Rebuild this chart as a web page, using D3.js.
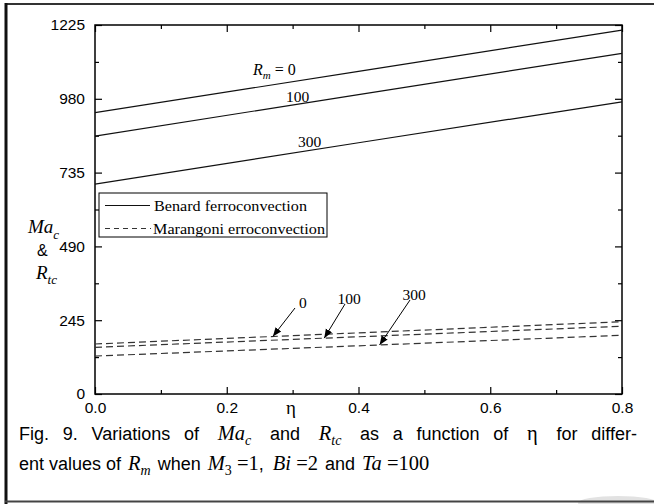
<!DOCTYPE html>
<html>
<head>
<meta charset="utf-8">
<script src="https://cdn.jsdelivr.net/npm/d3@7"></script>
<style>
  html, body { margin: 0; padding: 0; background: #fff; }
  svg { display: block; }
  text { white-space: pre; }
</style>
</head>
<body>
<script>
// η values sampled along each curve
const eta = [0, 0.4, 0.8];

// Benard ferroconvection (solid): critical R_tc for each R_m
const benardRm0   = [934, 1071, 1208];
const benardRm100 = [856, 994, 1131];
const benardRm300 = [697, 834, 970];

// Marangoni ferroconvection (dashed): critical Ma_c for each R_m
const marangoniRm0   = [166, 203, 240];
const marangoniRm100 = [155, 190, 225];
const marangoniRm300 = [126, 160, 195];

const yTicks = [0, 245, 490, 735, 980, 1225];
const yMinor = [122.5, 367.5, 612.5, 857.5, 1102.5];
const xTicks = [0, 0.2, 0.4, 0.6, 0.8];
const xMinor = [0.1, 0.3, 0.5, 0.7];

const solidSeries = [
  { label: "0",   values: benardRm0 },
  { label: "100", values: benardRm100 },
  { label: "300", values: benardRm300 }
];
const dashedSeries = [
  { label: "0",   values: marangoniRm0,   at: 0.27,  lx: 299, ly: 303 },
  { label: "100", values: marangoniRm100, at: 0.348, lx: 349, ly: 299 },
  { label: "300", values: marangoniRm300, at: 0.432, lx: 414, ly: 295 }
];

const W = 654, H = 504;
const margin = { left: 95, top: 25, right: 654 - 622, bottom: 504 - 394 };

const svg = d3.select("body").append("svg")
  .attr("width", W).attr("height", H)
  .style("font-family", "'Liberation Sans', Arial, sans-serif");

svg.append("rect").attr("width", W).attr("height", H).attr("fill", "#fff");

// figure frame
svg.append("line").attr("x1", 5).attr("x2", W).attr("y1", 4).attr("y2", 4)
  .attr("stroke", "#333").attr("stroke-width", 2);
svg.append("line").attr("x1", 6).attr("x2", 6).attr("y1", 3).attr("y2", H)
  .attr("stroke", "#111").attr("stroke-width", 3);
svg.append("ellipse").attr("cx", 618).attr("cy", 503).attr("rx", 40).attr("ry", 7)
  .attr("fill", "#e2e2e2");
svg.append("line").attr("x1", 5).attr("x2", W).attr("y1", 501.5).attr("y2", 501.5)
  .attr("stroke", "#444").attr("stroke-width", 2);

const x = d3.scaleLinear().domain([0, 0.8]).range([margin.left, W - margin.right]);
const y = d3.scaleLinear().domain([0, 1225]).range([H - margin.bottom, margin.top]);

const x0 = x.range()[0], x1 = x.range()[1];
const y0 = y.range()[0], y1 = y.range()[1];

function styleAxis(g) {
  g.select(".domain").remove();
  g.selectAll(".tick line").attr("stroke", "#000").attr("stroke-width", 1.2);
  g.selectAll(".tick text").attr("fill", "#000")
    .style("font-family", "'Liberation Sans', Arial, sans-serif")
    .style("font-size", "15.5px");
}

// left axis (ticks inward)
svg.append("g").attr("transform", `translate(${x0},0)`)
  .call(d3.axisLeft(y).tickValues(yTicks).tickSize(-7).tickPadding(10).tickFormat(d3.format("d")))
  .call(styleAxis);
svg.append("g").attr("transform", `translate(${x0},0)`)
  .call(d3.axisLeft(y).tickValues(yMinor).tickSize(-4).tickFormat(""))
  .call(styleAxis);
// right axis
svg.append("g").attr("transform", `translate(${x1},0)`)
  .call(d3.axisRight(y).tickValues(yTicks).tickSize(-7).tickFormat(""))
  .call(styleAxis);
svg.append("g").attr("transform", `translate(${x1},0)`)
  .call(d3.axisRight(y).tickValues(yMinor).tickSize(-4).tickFormat(""))
  .call(styleAxis);
// bottom axis
svg.append("g").attr("transform", `translate(0,${y0})`)
  .call(d3.axisBottom(x).tickValues(xTicks).tickSize(-7).tickPadding(8).tickFormat(d3.format(".1f")))
  .call(styleAxis);
svg.append("g").attr("transform", `translate(0,${y0})`)
  .call(d3.axisBottom(x).tickValues(xMinor).tickSize(-4).tickFormat(""))
  .call(styleAxis);
// top axis
svg.append("g").attr("transform", `translate(0,${y1})`)
  .call(d3.axisTop(x).tickValues(xTicks).tickSize(-7).tickFormat(""))
  .call(styleAxis);
svg.append("g").attr("transform", `translate(0,${y1})`)
  .call(d3.axisTop(x).tickValues(xMinor).tickSize(-4).tickFormat(""))
  .call(styleAxis);

// plot frame
svg.append("rect").attr("x", x0).attr("y", y1)
  .attr("width", x1 - x0).attr("height", y0 - y1)
  .attr("fill", "none").attr("stroke", "#000").attr("stroke-width", 1.5);

const line = d3.line().x((d, i) => x(eta[i])).y(d => y(d));

svg.append("g").selectAll("path").data(solidSeries).join("path")
  .attr("d", d => line(d.values))
  .attr("fill", "none").attr("stroke", "#111").attr("stroke-width", 1.2);

svg.append("g").selectAll("path").data(dashedSeries).join("path")
  .attr("d", d => line(d.values))
  .attr("fill", "none").attr("stroke", "#333").attr("stroke-width", 1.2)
  .attr("stroke-dasharray", "7,4");

const serif = "'Liberation Serif', 'Times New Roman', serif";

// curve labels for the solid lines
const rm = svg.append("text").attr("x", 253).attr("y", 75)
  .style("font-family", serif).style("font-size", "16px").attr("fill", "#000");
rm.append("tspan").style("font-style", "italic").text("R");
rm.append("tspan").attr("dy", 4).style("font-size", "11px").style("font-style", "italic").text("m");
rm.append("tspan").attr("dy", -4).text(" = 0");

svg.append("text").attr("x", 286).attr("y", 102).text("100")
  .style("font-family", serif).style("font-size", "15.5px");
svg.append("text").attr("x", 298).attr("y", 147).text("300")
  .style("font-family", serif).style("font-size", "15.5px");

// arrows pointing at the dashed curves
svg.append("defs").append("marker")
  .attr("id", "arrowhead").attr("viewBox", "0 0 10 10")
  .attr("refX", 10).attr("refY", 5)
  .attr("markerWidth", 9).attr("markerHeight", 9)
  .attr("markerUnits", "userSpaceOnUse")
  .attr("orient", "auto")
  .append("path").attr("d", "M0,1 L10,5 L0,9 Z").attr("fill", "#000");

function valueAt(values, e) {
  return d3.scaleLinear().domain(eta).range(values)(e);
}

dashedSeries.forEach(s => {
  const tx = x(s.at), ty = y(valueAt(s.values, s.at));
  svg.append("line")
    .attr("x1", s.lx - 4).attr("y1", s.ly + 5)
    .attr("x2", tx).attr("y2", ty)
    .attr("stroke", "#000").attr("stroke-width", 1)
    .attr("marker-end", "url(#arrowhead)");
  svg.append("text").attr("x", s.lx).attr("y", s.ly + 5)
    .attr("text-anchor", s.label === "0" ? "start" : "middle")
    .style("font-family", serif).style("font-size", "15.5px")
    .text(s.label);
});

// legend
const lg = svg.append("g");
lg.append("rect").attr("x", 99).attr("y", 193).attr("width", 228).attr("height", 44)
  .attr("fill", "#fff").attr("stroke", "#000").attr("stroke-width", 1);
lg.append("line").attr("x1", 105).attr("x2", 150).attr("y1", 205.5).attr("y2", 205.5)
  .attr("stroke", "#111").attr("stroke-width", 1.2);
lg.append("line").attr("x1", 105).attr("x2", 151).attr("y1", 228.5).attr("y2", 228.5)
  .attr("stroke", "#333").attr("stroke-width", 1.2).attr("stroke-dasharray", "5,4");
lg.append("text").attr("x", 154).attr("y", 211).text("Benard ferroconvection")
  .attr("textLength", 153).attr("lengthAdjust", "spacingAndGlyphs")
  .style("font-family", serif).style("font-size", "15.5px");
lg.append("text").attr("x", 153).attr("y", 234).text("Marangoni erroconvection")
  .attr("textLength", 172).attr("lengthAdjust", "spacingAndGlyphs")
  .style("font-family", serif).style("font-size", "15.5px");

// y-axis title
const ma = svg.append("text").attr("x", 28).attr("y", 233)
  .style("font-family", serif).style("font-size", "19px");
ma.append("tspan").style("font-style", "italic").text("Ma");
ma.append("tspan").attr("dy", 6).style("font-size", "13px").style("font-style", "italic").text("c");
svg.append("text").attr("x", 37).attr("y", 256).text("&")
  .style("font-size", "16px");
const rt = svg.append("text").attr("x", 36).attr("y", 279)
  .style("font-family", serif).style("font-size", "19px");
rt.append("tspan").style("font-style", "italic").text("R");
rt.append("tspan").attr("dy", 5).style("font-size", "13px").style("font-style", "italic").text("tc");

// x-axis title
svg.append("text").attr("x", 291).attr("y", 414).attr("text-anchor", "middle")
  .style("font-family", serif).style("font-size", "19px").text("η");

// caption: words are laid out one by one; the first line is justified
const capSize = 18, mathSize = 20.5, subSize = 14;
const capLeft = 19, capRight = 637;

// each part: t = text, m = serif math, i = italic, s = subscript
const cap1Words = [
  [{ t: "Fig." }], [{ t: "9." }], [{ t: "Variations" }], [{ t: "of" }],
  [{ t: "Ma", m: 1, i: 1 }, { t: "c", m: 1, i: 1, s: 1 }],
  [{ t: "and" }],
  [{ t: "R", m: 1, i: 1 }, { t: "tc", m: 1, i: 1, s: 1 }],
  [{ t: "as" }], [{ t: "a" }], [{ t: "function" }], [{ t: "of" }],
  [{ t: "η", m: 1 }],
  [{ t: "for" }], [{ t: "differ-" }]
];
const cap2Words = [
  [{ t: "ent" }], [{ t: "values" }], [{ t: "of" }],
  [{ t: "R", m: 1, i: 1 }, { t: "m", m: 1, i: 1, s: 1 }],
  [{ t: "when" }],
  [{ t: "M", m: 1, i: 1 }, { t: "3", m: 1, s: 1 }, { t: " =1", m: 1 }, { t: "," }],
  [{ t: "Bi", m: 1, i: 1 }, { t: " =2", m: 1 }],
  [{ t: "and" }],
  [{ t: "Ta", m: 1, i: 1 }, { t: " =100", m: 1 }]
];

function makeWord(parts, yBase, mathPad) {
  const t = svg.append("text").attr("y", yBase).style("font-size", capSize + "px");
  let shifted = false;
  parts.forEach(p => {
    const ts = t.append("tspan").text(p.t);
    if (p.m) ts.style("font-family", serif).style("font-size", (p.s ? subSize : mathSize) + "px");
    if (p.i) ts.style("font-style", "italic");
    if (p.s && !shifted) { ts.attr("dy", 5); shifted = true; }
    else if (!p.s && shifted) { ts.attr("dy", -5); shifted = false; }
  });
  const isMath = parts.some(p => p.m);
  return { sel: t, w: t.node().getComputedTextLength(), pad: isMath ? mathPad : 0 };
}

function layoutLine(words, yBase, justify, mathPad) {
  const items = words.map(w => makeWord(w, yBase, mathPad));
  const space = capSize * 0.278;
  let gap = space;
  if (justify) {
    const total = d3.sum(items, d => d.w) + d3.sum(items.slice(1), (d, i) => d.pad + items[i].pad);
    gap = (capRight - capLeft - total) / (items.length - 1);
  }
  let cx = capLeft;
  items.forEach((d, i) => {
    if (i > 0) cx += gap + d.pad + items[i - 1].pad;
    d.sel.attr("x", cx);
    cx += d.w;
  });
}

layoutLine(cap1Words, 440, true, 5);
layoutLine(cap2Words, 470, false, 2);
</script>
</body>
</html>
